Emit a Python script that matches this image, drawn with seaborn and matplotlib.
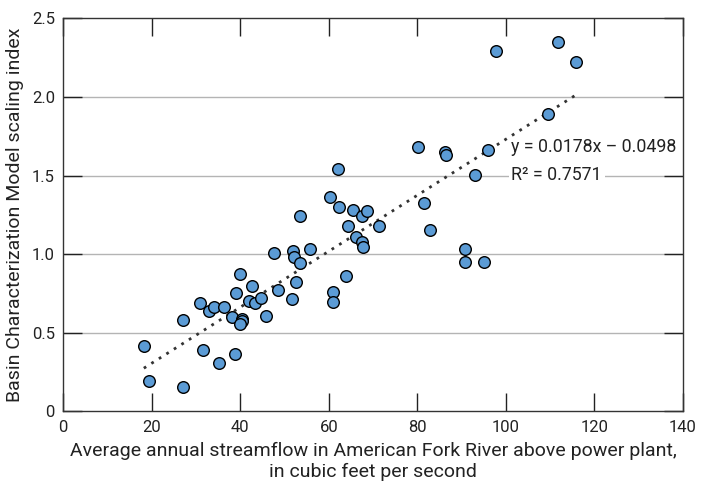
import matplotlib
matplotlib.use("Agg")
import matplotlib.pyplot as plt
import seaborn as sns
import numpy as np
import pandas as pd

streamflow = [18.2, 19.4, 27.0, 27.05, 31.0, 31.6, 32.9, 34.1, 35.2, 36.4,
              38.2, 38.7, 39.0, 39.9, 40.5, 40.3, 39.9, 42.0, 42.6, 43.4,
              44.6, 45.7, 47.6, 48.6, 51.7, 52.0, 52.2, 52.7, 53.6, 53.6,
              55.7, 60.2, 61.0, 61.0, 62.0, 62.4, 63.8, 64.3, 65.5, 66.1,
              67.5, 67.7, 67.6, 68.6, 71.3, 80.1, 81.6, 82.9, 86.2, 86.6,
              90.9, 90.9, 93.0, 95.1, 96.1, 97.9, 109.5, 111.7, 115.9]
scaling_index = [0.415, 0.19, 0.157, 0.578, 0.687, 0.39, 0.638, 0.665, 0.31, 0.663,
                 0.597, 0.366, 0.75, 0.871, 0.59, 0.573, 0.553, 0.70, 0.797, 0.69,
                 0.72, 0.606, 1.01, 0.769, 0.712, 1.021, 0.983, 0.824, 0.945, 1.242,
                 1.032, 1.362, 0.756, 0.693, 1.54, 1.30, 0.858, 1.182, 1.282, 1.112,
                 1.076, 1.043, 1.242, 1.273, 1.182, 1.682, 1.322, 1.153, 1.65, 1.631,
                 1.03, 0.947, 1.502, 0.947, 1.661, 2.29, 1.89, 2.35, 2.222]
slope = 0.0178
intercept = -0.0498
r_squared = 0.7571
x_ticks = [0, 20, 40, 60, 80, 100, 120, 140]
y_ticks = [0, 0.5, 1.0, 1.5, 2.0, 2.5]
y_tick_labels = ["0", "0.5", "1.0", "1.5", "2.0", "2.5"]

sns.set_style("white")
plt.rcParams['font.family'] = ['Roboto', 'DejaVu Sans']

df = pd.DataFrame({"x": streamflow, "y": scaling_index})

fig = plt.figure(figsize=(7.05, 4.91), dpi=100)
ax = fig.add_axes([0.0898, 0.1623, 0.8786, 0.8004])

for yv in y_ticks[1:-1]:
    ax.axhline(yv, color="#b4b4b4", lw=1.0, zorder=0)

xs = np.array([min(streamflow), max(streamflow)])
ax.plot(xs, slope * xs + intercept, linestyle=(0, (1, 2.2)), color="#333333",
        lw=2.0, zorder=2)

sns.scatterplot(data=df, x="x", y="y", ax=ax, s=70, color="#5b9bd5",
                edgecolor="black", linewidth=1.0, zorder=3, legend=False)

ax.set_xlim(0, 140)
ax.set_ylim(0, 2.5)
ax.set_xticks(x_ticks)
ax.set_yticks(y_ticks)
ax.set_yticklabels(y_tick_labels)
ax.tick_params(axis="x", direction="in", length=13, width=1.0, top=True,
               bottom=True, labelsize=12, pad=6, color="#222222",
               labelcolor="#222222")
ax.tick_params(axis="y", direction="in", length=14, width=1.0, left=True,
               right=True, labelsize=12, pad=6, color="#222222",
               labelcolor="#222222")
for sp in ax.spines.values():
    sp.set_color("#333333")
    sp.set_linewidth(1.0)

ax.set_xlabel("Average annual streamflow in American Fork River above power plant,\nin cubic feet per second",
              fontsize=14, color="#222222", labelpad=5, linespacing=1.2)
ax.set_ylabel("Basin Characterization Model scaling index", fontsize=14,
              color="#222222", labelpad=6)

ax.text(101.3, 1.683, f"y = {slope}x – {abs(intercept)}", fontsize=12.8,
        va="center", ha="left", color="#222222", zorder=4)
ax.text(101.3, 1.502, f"R² = {r_squared}", fontsize=12.8, va="center",
        ha="left", color="#222222", zorder=4,
        bbox=dict(facecolor="white", edgecolor="none", pad=2))

fig.savefig("out.png", dpi=100)
